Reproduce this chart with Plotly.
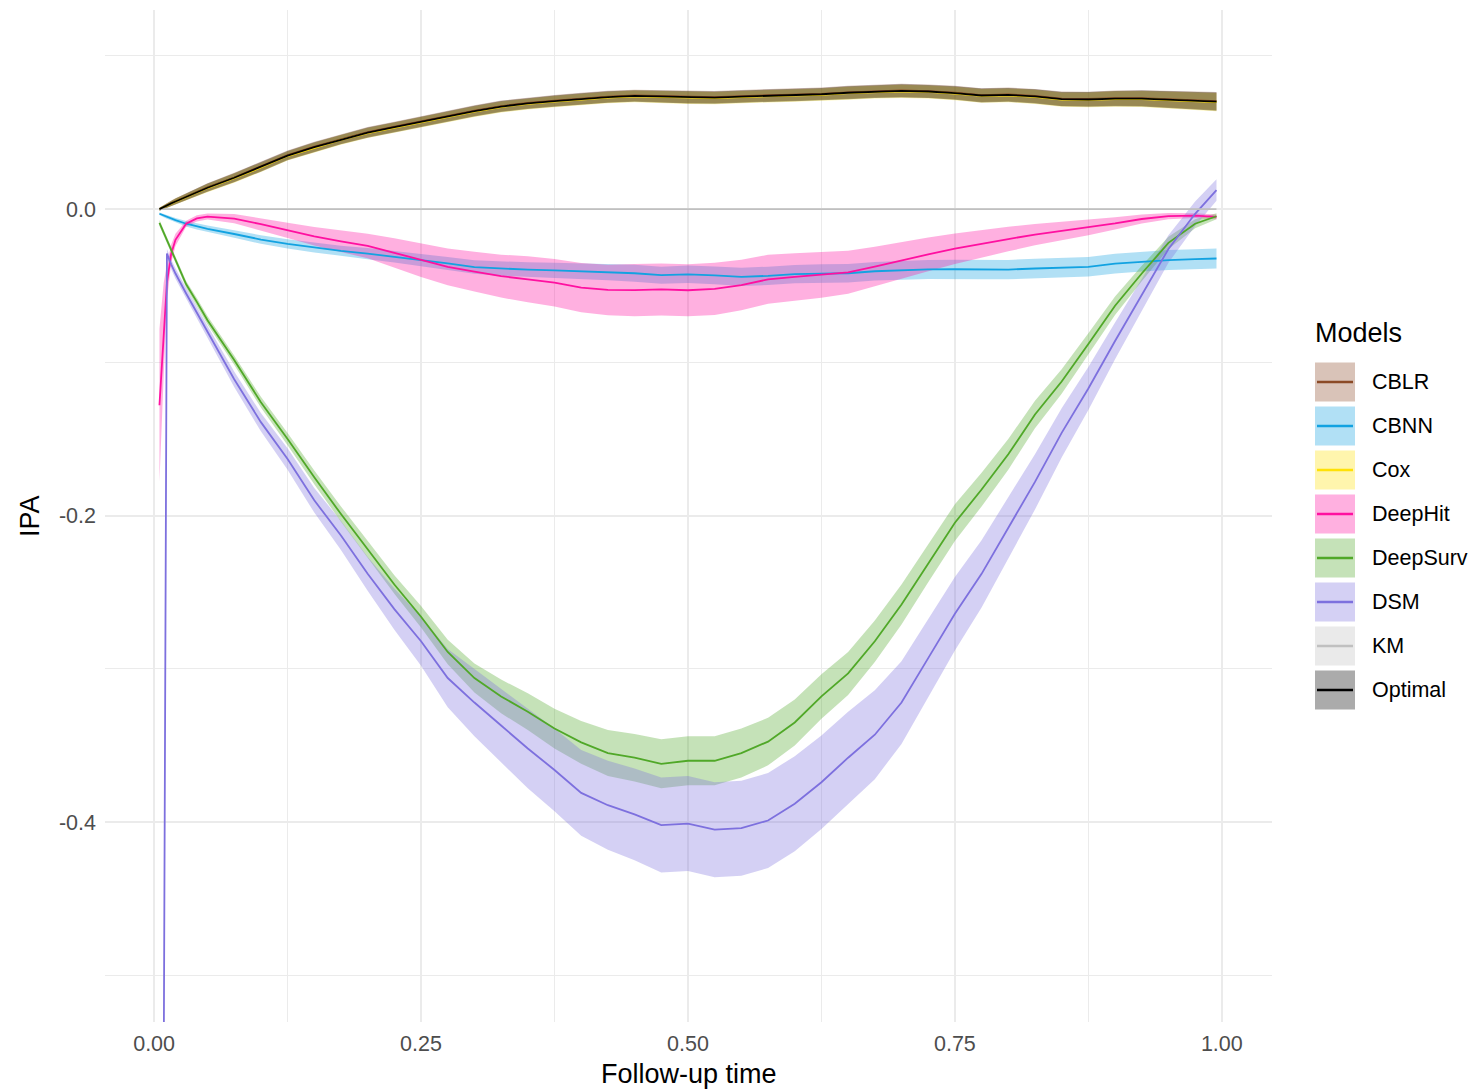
import plotly.graph_objects as go

# Follow-up time grid (fraction of maximum follow-up)
time = [0.005, 0.009, 0.012, 0.016, 0.02, 0.03, 0.04, 0.05, 0.075, 0.10,
        0.125, 0.15, 0.175, 0.20, 0.225, 0.25, 0.275, 0.30, 0.325, 0.35,
        0.375, 0.40, 0.425, 0.45, 0.475, 0.50, 0.525, 0.55, 0.575, 0.60,
        0.625, 0.65, 0.675, 0.70, 0.725, 0.75, 0.775, 0.80, 0.825, 0.85,
        0.875, 0.90, 0.925, 0.95, 0.975, 0.995]

# Mean IPA per model
ipa_optimal = [0.000, 0.0015, 0.0025, 0.0038, 0.005, 0.008, 0.011, 0.014, 0.0205, 0.0275,
               0.035, 0.0405, 0.0455, 0.050, 0.0535, 0.057, 0.0605, 0.064, 0.067, 0.069,
               0.0705, 0.072, 0.0732, 0.0739, 0.0735, 0.0728, 0.0728, 0.0735, 0.074, 0.0745,
               0.075, 0.076, 0.0768, 0.0772, 0.0768, 0.0758, 0.0742, 0.0746, 0.0736, 0.0718,
               0.0716, 0.0722, 0.0722, 0.0714, 0.0708, 0.0702]
ipa_cox = [0.000, 0.0014, 0.0024, 0.0037, 0.0049, 0.0079, 0.0108, 0.0138, 0.0203, 0.0272,
           0.0347, 0.0402, 0.0452, 0.0497, 0.0532, 0.0567, 0.0602, 0.0637, 0.0667, 0.0687,
           0.0702, 0.0717, 0.0729, 0.0736, 0.0732, 0.0725, 0.0725, 0.0732, 0.0737, 0.0742,
           0.0747, 0.0757, 0.0765, 0.0769, 0.0765, 0.0755, 0.0739, 0.0743, 0.0733, 0.0715,
           0.0713, 0.0719, 0.0719, 0.0711, 0.0705, 0.0699]
ipa_cblr = [0.000, 0.0016, 0.0026, 0.0039, 0.0051, 0.0081, 0.0112, 0.0142, 0.0207, 0.0278,
            0.0353, 0.0408, 0.0458, 0.0503, 0.0538, 0.0573, 0.0608, 0.0643, 0.0673, 0.0693,
            0.0708, 0.0723, 0.0735, 0.0742, 0.0738, 0.0731, 0.0731, 0.0738, 0.0743, 0.0748,
            0.0753, 0.0763, 0.0771, 0.0775, 0.0771, 0.0761, 0.0745, 0.0749, 0.0739, 0.0721,
            0.0719, 0.0725, 0.0725, 0.0717, 0.0711, 0.0705]
ipa_cbnn = [-0.003, -0.0042, -0.005, -0.0062, -0.0072, -0.0095, -0.0112, -0.0128, -0.0162, -0.0198,
            -0.0226, -0.025, -0.0272, -0.029, -0.031, -0.0333, -0.0354, -0.0378, -0.0388, -0.0395,
            -0.040, -0.0405, -0.041, -0.0418, -0.0431, -0.0425, -0.0432, -0.0442, -0.0435, -0.0424,
            -0.042, -0.0418, -0.0405, -0.0398, -0.0393, -0.0392, -0.0394, -0.0394, -0.0387, -0.0383,
            -0.0376, -0.0355, -0.0342, -0.0332, -0.0326, -0.0322]
ipa_deephit = [-0.128, -0.078, -0.048, -0.029, -0.020, -0.0095, -0.006, -0.0048, -0.0062, -0.0098,
               -0.0138, -0.0177, -0.021, -0.024, -0.0285, -0.0333, -0.0376, -0.0408, -0.0437, -0.0458,
               -0.048, -0.0512, -0.0527, -0.0528, -0.0524, -0.0529, -0.052, -0.0495, -0.0458, -0.0442,
               -0.0428, -0.0412, -0.0375, -0.0333, -0.0295, -0.0258, -0.0225, -0.0195, -0.0166, -0.0142,
               -0.012, -0.0093, -0.0064, -0.0045, -0.0042, -0.005]
ipa_deepsurv = [-0.009, -0.0155, -0.020, -0.0265, -0.033, -0.049, -0.0605, -0.0725, -0.0985, -0.126,
                -0.150, -0.175, -0.199, -0.222, -0.245, -0.266, -0.289, -0.306, -0.318, -0.328,
                -0.339, -0.348, -0.355, -0.358, -0.362, -0.360, -0.360, -0.355, -0.3475, -0.335,
                -0.318, -0.303, -0.282, -0.258, -0.231, -0.2046, -0.183, -0.160, -0.134, -0.1125,
                -0.088, -0.063, -0.042, -0.022, -0.0095, -0.0046]
ipa_dsm = [None, -0.56, -0.029, -0.036, -0.042, -0.055, -0.068, -0.080, -0.111, -0.139,
           -0.163, -0.190, -0.213, -0.238, -0.261, -0.282, -0.306, -0.322, -0.337, -0.352,
           -0.366, -0.381, -0.389, -0.395, -0.402, -0.401, -0.405, -0.404, -0.399, -0.388,
           -0.374, -0.358, -0.343, -0.322, -0.293, -0.264, -0.238, -0.208, -0.178, -0.146,
           -0.117, -0.086, -0.056, -0.026, -0.003, 0.0125]
ipa_km = [0.0, 0.0, 0.0, 0.0, 0.0, 0.0, 0.0, 0.0, 0.0, 0.0,
          0.0, 0.0, 0.0, 0.0, 0.0, 0.0, 0.0, 0.0, 0.0, 0.0,
          0.0, 0.0, 0.0, 0.0, 0.0, 0.0, 0.0, 0.0, 0.0, 0.0,
          0.0, 0.0, 0.0, 0.0, 0.0, 0.0, 0.0, 0.0, 0.0, 0.0,
          0.0, 0.0, 0.0, 0.0, 0.0, 0.0]

# Half-width of the confidence band per model
band_top = [0.001, 0.0012, 0.0015, 0.0018, 0.002, 0.0022, 0.0025, 0.0027, 0.003, 0.003,
            0.003, 0.0032, 0.0032, 0.0033, 0.0033, 0.0034, 0.0035, 0.0035, 0.0036, 0.0036,
            0.0037, 0.0037, 0.0038, 0.0038, 0.0039, 0.0039, 0.004, 0.004, 0.004, 0.0041,
            0.0041, 0.0042, 0.0042, 0.0043, 0.0043, 0.0044, 0.0045, 0.0045, 0.0046, 0.0047,
            0.0048, 0.005, 0.0052, 0.0055, 0.0058, 0.006]
band_cbnn = [0.0008, 0.001, 0.0012, 0.0014, 0.0015, 0.0018, 0.002, 0.0022, 0.0025, 0.0028,
             0.003, 0.0032, 0.0034, 0.0036, 0.0038, 0.004, 0.0042, 0.0044, 0.0046, 0.0048,
             0.005, 0.0052, 0.0054, 0.0055, 0.0056, 0.0057, 0.0058, 0.0059, 0.006, 0.006,
             0.006, 0.0061, 0.0061, 0.0062, 0.0062, 0.0062, 0.0063, 0.0063, 0.0063, 0.0064,
             0.0064, 0.0064, 0.0065, 0.0065, 0.0065, 0.0065]
band_deephit = [0.05, 0.03, 0.012, 0.006, 0.004, 0.002, 0.002, 0.002, 0.003, 0.004,
                0.005, 0.006, 0.007, 0.008, 0.0095, 0.011, 0.012, 0.013, 0.014, 0.015,
                0.0155, 0.016, 0.0165, 0.017, 0.017, 0.017, 0.017, 0.0165, 0.016, 0.0155,
                0.015, 0.014, 0.013, 0.012, 0.011, 0.010, 0.009, 0.008, 0.007, 0.006,
                0.005, 0.004, 0.003, 0.002, 0.0015, 0.0015]
band_deepsurv = [0.002, 0.002, 0.002, 0.002, 0.002, 0.0022, 0.0025, 0.0028, 0.003, 0.0035,
                 0.004, 0.0045, 0.005, 0.0055, 0.006, 0.007, 0.008, 0.0095, 0.011, 0.012,
                 0.013, 0.014, 0.015, 0.0155, 0.016, 0.016, 0.016, 0.016, 0.0155, 0.015,
                 0.0145, 0.014, 0.0135, 0.013, 0.0125, 0.012, 0.011, 0.010, 0.009, 0.008,
                 0.007, 0.006, 0.005, 0.004, 0.003, 0.002]
band_dsm = [0.0, 0.003, 0.003, 0.0032, 0.0034, 0.0036, 0.0038, 0.004, 0.005, 0.006,
            0.007, 0.008, 0.0095, 0.011, 0.0135, 0.016, 0.019, 0.022, 0.024, 0.026,
            0.027, 0.028, 0.029, 0.030, 0.031, 0.031, 0.031, 0.031, 0.031, 0.031,
            0.0305, 0.030, 0.029, 0.027, 0.0255, 0.024, 0.022, 0.020, 0.018, 0.016,
            0.014, 0.012, 0.0105, 0.009, 0.008, 0.007]
band_km = [0.0] * len(time)

models = ["CBLR", "CBNN", "Cox", "DeepHit", "DeepSurv", "DSM", "KM", "Optimal"]
series = {
    "CBLR": (ipa_cblr, band_top),
    "CBNN": (ipa_cbnn, band_cbnn),
    "Cox": (ipa_cox, band_top),
    "DeepHit": (ipa_deephit, band_deephit),
    "DeepSurv": (ipa_deepsurv, band_deepsurv),
    "DSM": (ipa_dsm, band_dsm),
    "KM": (ipa_km, band_km),
    "Optimal": (ipa_optimal, band_top),
}
rgb = {
    "CBLR": (139, 74, 38),
    "CBNN": (18, 162, 225),
    "Cox": (255, 225, 6),
    "DeepHit": (255, 16, 160),
    "DeepSurv": (80, 168, 40),
    "DSM": (125, 112, 222),
    "KM": (192, 192, 192),
    "Optimal": (0, 0, 0),
}
FILL_ALPHA = 0.33

x_tick_vals = [0.0, 0.25, 0.5, 0.75, 1.0]
x_tick_text = ["0.00", "0.25", "0.50", "0.75", "1.00"]
y_tick_vals = [0.0, -0.2, -0.4]
y_tick_text = ["0.0", "-0.2", "-0.4"]

# Canvas and plot-area geometry (pixels)
W, H = 1481, 1091
ML, MR, MT, MB = 105, 209, 10, 69
PW, PH = W - ML - MR, H - MT - MB
FONT = "Liberation Sans, Arial, Helvetica, sans-serif"


def px_x(px):
    return (px - ML) / PW


def px_y(py):
    return (H - MB - py) / PH


def rgba(c, a):
    return f"rgba({c[0]},{c[1]},{c[2]},{a})"


fig = go.Figure()

# Confidence bands first, then the mean lines on top
for name in models:
    mean, hw = series[name]
    pts = [(t, m, h) for t, m, h in zip(time, mean, hw) if m is not None]
    if max(p[2] for p in pts) == 0:
        continue
    xs = [p[0] for p in pts] + [p[0] for p in reversed(pts)]
    ys = [p[1] + p[2] for p in pts] + [p[1] - p[2] for p in reversed(pts)]
    fig.add_trace(go.Scatter(
        x=xs, y=ys, mode="lines", fill="toself",
        fillcolor=rgba(rgb[name], FILL_ALPHA), line=dict(width=0),
        hoverinfo="skip", showlegend=False))

for name in models:
    mean, _ = series[name]
    fig.add_trace(go.Scatter(
        x=time, y=mean, mode="lines", name=name,
        line=dict(color=rgba(rgb[name], 1), width=1.8),
        showlegend=False))

# Legend drawn as ggplot-style keys: filled box with a line through it
shapes = []
annotations = []
annotations.append(dict(
    text="Models", x=px_x(1313), y=px_y(333), xref="paper", yref="paper",
    xanchor="left", yanchor="middle", showarrow=False,
    font=dict(family=FONT, size=27, color="#000000")))
for i, name in enumerate(models):
    cy = 382 + 44 * i
    shapes.append(dict(
        type="rect", xref="paper", yref="paper",
        x0=px_x(1315), x1=px_x(1355), y0=px_y(cy + 19.5), y1=px_y(cy - 19.5),
        fillcolor=rgba(rgb[name], FILL_ALPHA), line=dict(width=0), layer="above"))
    shapes.append(dict(
        type="line", xref="paper", yref="paper",
        x0=px_x(1317), x1=px_x(1353), y0=px_y(cy), y1=px_y(cy),
        line=dict(color=rgba(rgb[name], 1), width=2.4), layer="above"))
    annotations.append(dict(
        text=name, x=px_x(1370), y=px_y(cy), xref="paper", yref="paper",
        xanchor="left", yanchor="middle", showarrow=False,
        font=dict(family=FONT, size=21.5, color="#000000")))

# Axis titles
annotations.append(dict(
    text="Follow-up time", x=0.5, y=px_y(1074), xref="paper", yref="paper",
    xanchor="center", yanchor="middle", showarrow=False,
    font=dict(family=FONT, size=27, color="#000000")))
annotations.append(dict(
    text="IPA", x=px_x(30), y=0.5, xref="paper", yref="paper",
    xanchor="center", yanchor="middle", textangle=-90, showarrow=False,
    font=dict(family=FONT, size=27, color="#000000")))

grid = "#EBEBEB"
fig.update_layout(
    width=W, height=H,
    margin=dict(l=ML, r=MR, t=MT, b=MB, pad=0),
    paper_bgcolor="white", plot_bgcolor="white",
    showlegend=False,
    shapes=shapes, annotations=annotations,
    xaxis=dict(
        range=[-0.046, 1.047], tickmode="array",
        tickvals=x_tick_vals, ticktext=x_tick_text,
        showgrid=True, gridcolor=grid, gridwidth=1.8,
        minor=dict(showgrid=True, gridcolor=grid, gridwidth=1,
                   tickmode="array", tickvals=[0.125, 0.375, 0.625, 0.875]),
        zeroline=False, showline=False, ticks="",
        ticklabelstandoff=6,
        tickfont=dict(family=FONT, size=21.5, color="#4D4D4D")),
    yaxis=dict(
        range=[-0.5305, 0.13], tickmode="array",
        tickvals=y_tick_vals, ticktext=y_tick_text,
        showgrid=True, gridcolor=grid, gridwidth=1.8,
        minor=dict(showgrid=True, gridcolor=grid, gridwidth=1,
                   tickmode="array", tickvals=[0.1, -0.1, -0.3, -0.5]),
        zeroline=False, showline=False, ticks="",
        ticklabelstandoff=8,
        tickfont=dict(family=FONT, size=21.5, color="#4D4D4D")),
)

fig.write_html("out.html")
